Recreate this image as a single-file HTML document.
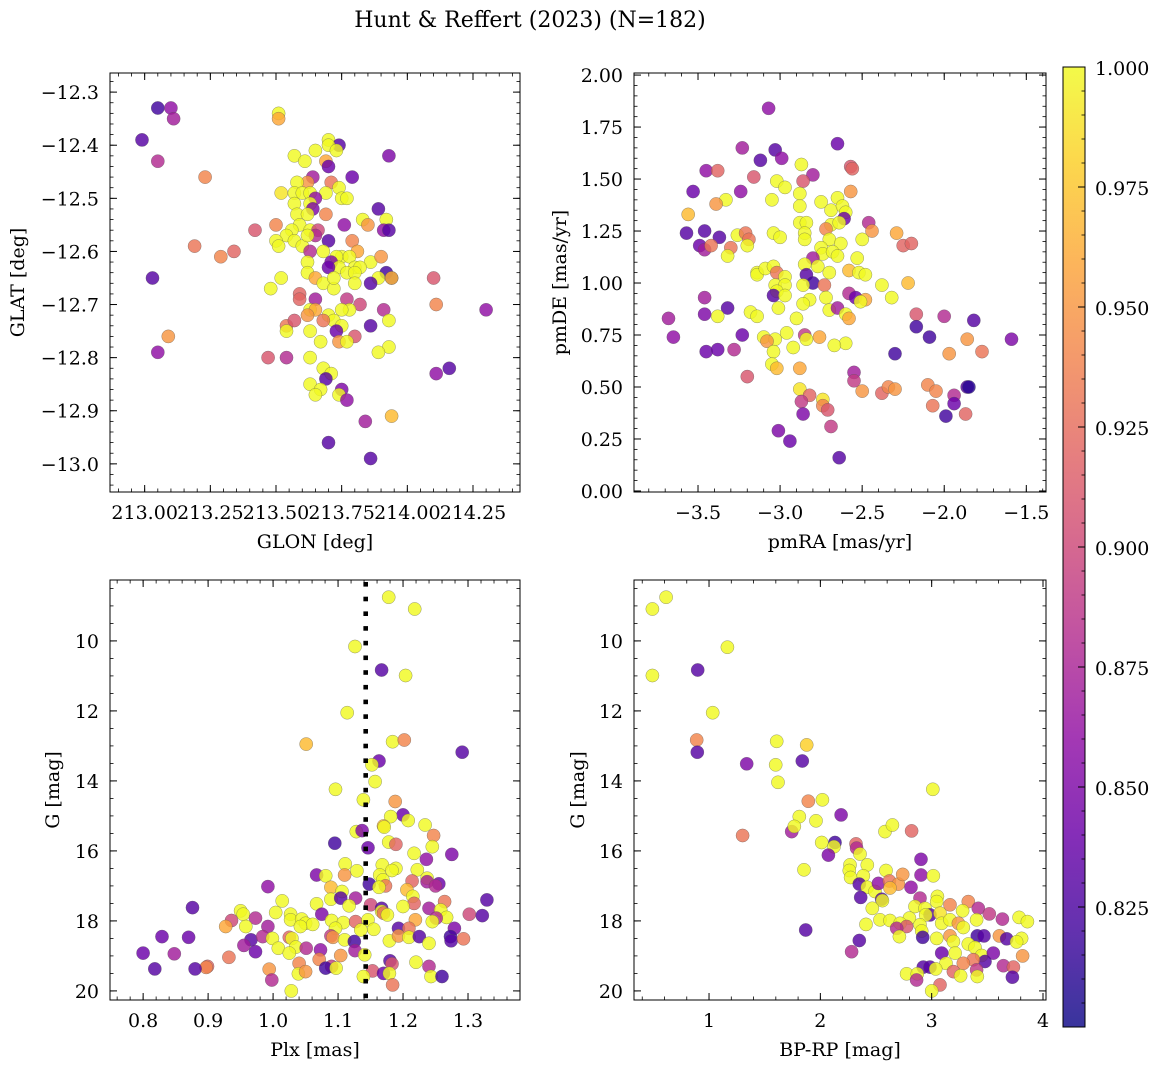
<!DOCTYPE html>
<html><head><meta charset="utf-8">
<style>
html,body{margin:0;padding:0;background:#fff;}
svg{display:block;font-family:"DejaVu Serif","Liberation Serif",serif;}
</style></head>
<body>
<svg id="fig" width="1160" height="1067" viewBox="0 0 1160 1067" xmlns="http://www.w3.org/2000/svg">
<defs>
<linearGradient id="plasmaGrad" x1="0" y1="1" x2="0" y2="0">
<stop offset="0" stop-color="#0d0887"/><stop offset="0.1" stop-color="#41049d"/><stop offset="0.2" stop-color="#6a00a8"/><stop offset="0.3" stop-color="#8f0da4"/><stop offset="0.4" stop-color="#b12a90"/><stop offset="0.5" stop-color="#cc4778"/><stop offset="0.6" stop-color="#e16462"/><stop offset="0.7" stop-color="#f2844b"/><stop offset="0.8" stop-color="#fca636"/><stop offset="0.9" stop-color="#fcce25"/><stop offset="1" stop-color="#f0f921"/>
</linearGradient>
</defs>
<text x="530" y="27" font-size="22" text-anchor="middle">Hunt &amp; Reffert (2023) (N=182)</text>
</svg>
<script>
// ---------- Panel 1 data: GLON / GLAT ----------
const p1Glon=[213.05,213.10,213.11,212.99,213.05,213.23,213.51,213.51,213.70,213.74,213.70,213.73,213.65,213.57,213.61,213.69,213.70,213.93,213.79,213.64,213.62,213.58,213.71,213.74,213.69,213.52,213.57,213.60,213.63,213.75,213.77,213.65,213.57,213.63,213.64,213.58,213.62,213.69,213.89,213.83,213.85,213.92,213.76,213.91,213.93,213.42,213.50,213.59,213.56,213.63,213.66,213.65,213.70,213.79,213.54,213.50,213.51,213.57,213.60,213.62,213.68,213.63,213.81,213.75,213.78,213.73,213.71,213.19,213.29,213.34,213.03,213.62,213.86,213.90,213.74,213.80,213.82,213.70,213.62,213.65,213.68,213.72,213.72,213.77,213.80,213.80,213.92,213.89,213.94,213.94,213.86,213.52,213.48,214.10,214.11,214.30,213.59,213.59,213.65,213.77,213.82,213.63,213.65,213.78,213.75,213.91,213.70,213.72,213.68,213.93,213.62,213.75,213.73,213.86,213.80,213.54,213.57,213.54,213.63,213.67,213.74,213.77,213.93,213.89,213.47,213.54,213.63,213.09,213.05,213.68,213.71,213.69,213.63,213.67,213.65,213.75,213.74,213.77,214.11,214.16,213.94,213.84,213.70,213.86];
const p1Glat=[-12.33,-12.33,-12.35,-12.39,-12.43,-12.46,-12.34,-12.35,-12.39,-12.40,-12.40,-12.41,-12.41,-12.42,-12.43,-12.43,-12.44,-12.42,-12.46,-12.46,-12.47,-12.47,-12.47,-12.48,-12.49,-12.49,-12.49,-12.49,-12.49,-12.50,-12.50,-12.50,-12.51,-12.51,-12.52,-12.53,-12.53,-12.53,-12.52,-12.54,-12.55,-12.54,-12.55,-12.56,-12.56,-12.56,-12.55,-12.55,-12.56,-12.56,-12.56,-12.57,-12.58,-12.58,-12.57,-12.58,-12.59,-12.58,-12.59,-12.57,-12.60,-12.60,-12.60,-12.61,-12.61,-12.61,-12.62,-12.59,-12.61,-12.60,-12.65,-12.62,-12.62,-12.61,-12.63,-12.63,-12.63,-12.63,-12.64,-12.65,-12.66,-12.67,-12.65,-12.64,-12.64,-12.66,-12.64,-12.65,-12.65,-12.65,-12.66,-12.65,-12.67,-12.65,-12.70,-12.71,-12.68,-12.69,-12.69,-12.69,-12.70,-12.71,-12.71,-12.71,-12.71,-12.71,-12.72,-12.73,-12.73,-12.73,-12.72,-12.74,-12.75,-12.74,-12.76,-12.74,-12.73,-12.75,-12.75,-12.77,-12.77,-12.77,-12.78,-12.79,-12.80,-12.80,-12.80,-12.76,-12.79,-12.82,-12.83,-12.84,-12.85,-12.86,-12.87,-12.86,-12.87,-12.88,-12.83,-12.82,-12.91,-12.92,-12.96,-12.99];
const p1Prob=[.82,.86,.87,.83,.88,.94,1,.96,1,.83,1,1,1,1,1,.96,.84,.85,.84,.87,.95,1,.93,1,1,.99,1,1,1,1,1,.86,1,1,.85,1,1,.94,.83,1,.95,1,.86,.86,.83,.91,.94,1,1,1,.90,.88,.83,.94,1,1,1,1,1,1,1,.88,.96,1,1,1,.85,.93,.94,.92,.83,1,1,.95,1,1,1,.84,1,.96,1,1,1,1,1,1,.82,1,.83,.97,.83,1,1,.91,.94,.86,.92,.92,.87,.89,.90,1,.96,1,1,.88,1,1,.93,1,.95,1,.84,.83,.91,.93,.91,1,1,1,.95,1,1,1,.91,.88,1,.95,.86,1,1,.83,1,1,1,.85,1,.86,.86,.83,.97,.87,.83,.83];

// ---------- Panel 2 data: pmRA / pmDE ----------
const p2PmRA=[-3.07,-3.23,-3.03,-2.99,-3.12,-2.65,-2.87,-3.45,-3.38,-2.80,-2.86,-3.16,-2.57,-2.56,-3.02,-2.97,-3.53,-3.24,-2.57,-2.88,-3.05,-2.75,-2.65,-3.33,-3.39,-3.56,-2.88,-2.69,-2.62,-2.60,-2.61,-2.88,-2.84,-2.46,-2.69,-2.64,-2.72,-2.44,-2.29,-3.57,-3.46,-3.37,-3.26,-3.21,-3.19,-3.04,-3.00,-2.85,-2.85,-2.70,-2.50,-3.49,-3.46,-3.42,-3.30,-3.20,-3.32,-2.25,-2.20,-2.75,-2.74,-2.63,-2.68,-2.65,-2.80,-2.53,-2.85,-2.77,-2.58,-2.52,-2.48,-3.14,-3.14,-3.09,-3.04,-3.02,-2.97,-2.84,-2.70,-2.80,-2.73,-2.38,-2.22,-3.03,-2.97,-3.02,-2.86,-3.04,-2.97,-2.58,-2.54,-2.72,-2.48,-2.51,-2.32,-3.46,-2.82,-2.86,-3.32,-3.01,-2.70,-2.65,-2.60,-2.58,-3.46,-3.38,-3.18,-3.14,-2.17,-2.00,-1.82,-3.68,-2.90,-2.17,-3.65,-3.23,-2.85,-2.96,-2.76,-3.10,-3.03,-2.84,-3.08,-2.60,-2.67,-2.92,-2.09,-1.86,-1.59,-3.45,-3.38,-3.28,-3.04,-2.30,-1.97,-1.77,-3.05,-3.02,-2.88,-3.20,-2.55,-2.55,-2.88,-2.50,-2.38,-2.34,-2.30,-2.10,-2.05,-1.86,-1.85,-2.82,-2.74,-2.74,-2.87,-2.71,-2.86,-1.94,-1.94,-2.07,-1.99,-1.87,-2.69,-3.01,-2.94,-2.64];
const p2PmDE=[1.84,1.65,1.64,1.60,1.59,1.67,1.57,1.54,1.54,1.52,1.49,1.51,1.56,1.55,1.49,1.46,1.44,1.44,1.44,1.43,1.40,1.39,1.41,1.40,1.38,1.33,1.37,1.35,1.37,1.34,1.31,1.29,1.29,1.29,1.28,1.29,1.26,1.25,1.24,1.24,1.25,1.22,1.23,1.24,1.21,1.24,1.22,1.24,1.21,1.21,1.21,1.18,1.16,1.18,1.17,1.18,1.13,1.18,1.19,1.17,1.14,1.19,1.15,1.13,1.12,1.12,1.09,1.08,1.06,1.05,1.04,1.05,1.04,1.07,1.08,1.05,1.03,1.04,1.05,1.00,0.99,0.99,1.00,0.99,0.99,0.96,0.99,0.94,0.94,0.95,0.93,0.93,0.92,0.91,0.93,0.93,0.92,0.90,0.88,0.88,0.87,0.88,0.85,0.83,0.85,0.84,0.86,0.84,0.85,0.84,0.82,0.83,0.83,0.79,0.74,0.75,0.75,0.76,0.74,0.74,0.73,0.73,0.72,0.71,0.70,0.69,0.74,0.73,0.73,0.67,0.68,0.68,0.67,0.66,0.66,0.67,0.61,0.59,0.59,0.55,0.57,0.53,0.49,0.48,0.47,0.50,0.49,0.51,0.48,0.50,0.50,0.46,0.44,0.41,0.43,0.39,0.37,0.46,0.42,0.41,0.36,0.37,0.31,0.29,0.24,0.16];
const p2Prob=[.86,.87,.83,.86,.83,.84,1,.86,.92,.87,.91,.91,.91,.92,1,1,.84,.86,.95,1,1,1,1,1,.95,.97,1,1,1,1,.84,1,1,.88,1,1,.94,.95,.96,.83,.83,.83,1,.93,.93,1,1,1,1,1,1,.84,.87,.93,.93,1,1,.92,.92,1,1,1,1,1,.87,1,1,1,.97,1,1,1,1,1,1,.93,1,.83,1,.82,.93,1,.97,1,1,1,1,.83,1,.88,.84,1,.96,1,1,.87,1,1,.83,1,1,.87,1,.96,.85,1,1,1,.91,.88,.83,.87,1,.82,.86,.84,.89,1,.96,1,1,1,.95,1,1,1,.82,.95,.85,.84,.84,.88,1,.82,.95,.93,1,.97,.96,.91,.87,.89,.99,.95,.92,.94,.95,.94,.94,.83,.81,.92,.99,.94,.89,.91,.85,.88,.84,.93,.82,.92,.89,.85,.84,.83];

// ---------- Panel 3 data: Plx / G ----------
const p3Plx=[1.178,1.218,1.126,1.167,1.204,1.114,1.051,1.184,1.202,1.291,1.163,1.152,1.157,1.096,1.139,1.188,1.200,1.181,1.208,1.170,1.171,1.234,1.247,1.128,1.137,1.095,1.178,1.189,1.245,1.146,1.217,1.275,1.236,1.111,1.168,1.189,1.183,1.129,1.067,1.081,1.110,1.164,1.222,1.169,1.237,1.237,1.214,1.255,1.148,1.250,0.992,1.089,1.173,1.163,1.206,1.106,1.089,1.104,1.127,1.215,1.217,1.014,0.876,1.067,1.117,1.150,1.240,1.264,1.258,1.329,1.167,1.167,1.200,0.950,0.954,1.004,1.027,1.075,1.170,1.176,1.302,1.322,1.267,1.251,0.973,0.936,1.027,1.044,1.050,1.061,1.090,1.108,1.127,1.146,1.219,1.245,0.927,0.958,0.992,1.042,1.096,1.135,1.155,1.193,1.209,1.279,0.829,0.870,0.966,0.984,0.999,1.025,1.029,1.089,1.092,1.110,1.125,1.179,1.193,1.209,1.225,1.273,1.274,1.293,0.955,1.008,1.035,1.051,1.073,1.126,1.240,0.973,0.800,0.848,1.025,1.141,1.104,0.932,1.071,1.180,1.183,1.220,1.040,1.090,1.081,1.097,1.240,0.899,0.897,0.818,0.880,0.994,1.153,1.170,1.179,1.039,1.050,0.998,1.139,1.243,1.260,1.184,1.028];
const p3G=[8.75,9.09,10.16,10.83,10.99,12.05,12.95,12.88,12.83,13.18,13.43,13.54,14.02,14.24,14.54,14.59,14.97,15.02,15.13,15.29,15.32,15.26,15.56,15.45,15.42,15.78,15.75,15.81,15.88,15.91,16.07,16.10,16.24,16.37,16.40,16.50,16.56,16.57,16.69,16.71,16.69,16.69,16.54,16.83,16.78,16.88,16.86,16.94,16.95,17.00,17.02,17.04,17.00,17.04,17.11,17.16,17.38,17.35,17.35,17.30,17.50,17.43,17.62,17.51,17.57,17.54,17.64,17.45,17.69,17.40,17.64,17.73,17.59,17.71,17.81,17.76,17.81,17.81,17.78,17.83,17.81,17.85,17.90,17.92,17.92,17.99,17.97,17.95,18.07,18.10,17.99,18.05,18.02,17.97,17.97,18.02,18.16,18.16,18.16,18.16,18.21,18.26,18.24,18.21,18.21,18.21,18.45,18.47,18.54,18.45,18.50,18.47,18.50,18.43,18.47,18.54,18.59,18.57,18.43,18.47,18.45,18.45,18.57,18.51,18.70,18.78,18.75,18.78,18.83,18.85,18.64,18.88,18.92,18.94,18.92,18.97,18.99,19.04,19.10,19.14,19.23,19.18,19.21,19.30,19.35,19.35,19.30,19.30,19.33,19.37,19.37,19.38,19.43,19.50,19.50,19.51,19.45,19.69,19.59,19.59,19.59,19.83,20.00];
const p3Prob=[1,1,1,.83,1,1,.97,1,.94,.83,.84,1,1,1,1,.95,.84,1,1,.97,1,1,.94,1,.85,.82,1,.92,1,.84,1,.85,.86,1,1,1,1,1,.85,1,.95,1,1,1,1,.87,.92,.84,.82,.88,.86,.97,.93,1,.97,1,1,.83,.87,1,.92,1,.83,1,1,.90,.87,.93,1,.83,.83,1,1,1,1,1,1,.85,.93,1,.90,.83,1,.88,.88,.90,1,1,1,1,1,1,.92,1,.96,1,.96,1,.87,1,1,1,1,.83,.93,.85,.84,.84,.83,.88,1,.92,1,.89,.95,1,.82,1,.95,1,.83,.82,.83,.93,.87,1,1,.88,.86,.87,1,.84,.84,.87,1,1,.95,.93,.94,.83,.91,1,.94,.89,.82,1,.88,.92,.94,.83,.83,.95,.91,.84,1,1,.95,.88,1,1,.82,.93,1];

// ---------- Panel 4 data: BP-RP / G ----------
const p4Color=[0.614,0.491,1.165,0.898,0.491,1.033,0.889,0.895,1.338,1.608,1.877,1.838,1.599,1.620,3.010,1.892,2.018,2.186,1.811,1.743,1.766,1.961,1.302,2.581,2.647,2.820,2.012,2.132,2.123,2.072,2.320,2.326,2.356,1.853,2.266,2.260,2.272,2.422,2.386,2.590,2.904,2.904,3.015,2.350,2.422,2.491,2.521,2.620,2.701,2.740,2.814,2.626,2.362,2.551,2.557,2.467,2.895,3.051,3.045,3.165,3.329,3.419,3.518,3.635,2.850,2.940,2.985,2.946,3.075,3.278,3.404,2.536,2.626,2.800,2.410,2.716,2.775,2.686,2.895,3.090,3.165,3.240,3.284,2.910,3.785,3.860,1.868,2.710,2.919,3.045,3.165,3.410,3.470,3.608,3.674,3.808,3.763,2.350,3.195,3.329,3.389,3.090,3.210,3.449,3.554,3.479,3.374,3.817,2.281,3.284,3.644,3.734,3.725,3.129,2.925,2.985,3.036,3.404,2.775,2.871,2.865,3.195,3.260,3.410,3.075,3.000];
const p4G=[8.75,9.09,10.18,10.83,10.99,12.05,12.83,13.18,13.51,12.87,12.97,13.43,13.54,14.04,14.24,14.58,14.54,14.97,15.02,15.45,15.30,15.14,15.56,15.45,15.26,15.43,15.76,15.76,15.88,16.12,15.80,15.92,16.09,16.54,16.40,16.56,16.76,16.40,16.71,16.56,16.24,16.69,16.71,16.95,17.04,17.16,16.93,16.86,16.95,16.67,17.04,17.06,17.33,17.38,17.42,17.64,17.35,17.30,17.45,17.54,17.45,17.64,17.80,17.95,17.59,17.64,17.83,17.83,17.78,17.71,17.97,17.97,17.99,17.92,18.10,18.07,18.16,18.21,18.11,18.07,17.97,18.07,18.19,18.29,17.90,18.02,18.26,18.45,18.47,18.50,18.43,18.43,18.43,18.43,18.51,18.50,18.60,18.56,18.59,18.66,18.76,18.92,18.92,18.99,18.92,19.16,19.11,19.00,18.88,19.21,19.28,19.32,19.61,19.21,19.32,19.32,19.37,19.40,19.51,19.51,19.69,19.45,19.57,19.59,19.83,20.00];
const p4Prob=[1,1,1,.83,1,1,.94,.83,.85,1,.98,.83,1,1,1,.94,1,.85,1,.87,1,1,.93,1,1,.92,1,.82,1,.85,.92,.88,1,1,1,1,1,1,1,1,.85,.86,1,.83,1,1,.86,.93,.95,.95,.86,.97,.83,.83,1,1,.88,1,1,.94,.94,.88,.89,.88,1,1,.83,1,.99,1,1,1,1,1,1,1,.91,.88,1,1,1,.95,1,1,1,1,.83,1,.82,1,.95,.82,.83,.95,.83,1,1,.83,1,1,1,.84,1,1,.85,.83,.93,.95,.88,.94,.88,.92,.83,1,.83,.83,1,.89,1,1,.88,.92,1,1,.92,1];

// ---------- tick / colorbar arrays ----------
const p1XTicks=[213.00,213.25,213.50,213.75,214.00,214.25];
const p1YTicks=[-12.3,-12.4,-12.5,-12.6,-12.7,-12.8,-12.9,-13.0];
const p2XTicks=[-3.5,-3.0,-2.5,-2.0,-1.5];
const p2YTicks=[0.00,0.25,0.50,0.75,1.00,1.25,1.50,1.75,2.00];
const p3XTicks=[0.8,0.9,1.0,1.1,1.2,1.3];
const gTicks=[10,12,14,16,18,20];
const p4XTicks=[1,2,3,4];
const cbTicks=[0.825,0.850,0.875,0.900,0.925,0.950,0.975,1.000];
const plxRef=1.1426;
const vMin=0.8, vMax=1.0;

const NS='http://www.w3.org/2000/svg';
const svg=document.getElementById('fig');
function mk(tag,attrs,parent){const e=document.createElementNS(NS,tag);for(const k in attrs)e.setAttribute(k,attrs[k]);(parent||svg).appendChild(e);return e;}
const plasma=['#0d0887','#41049d','#6a00a8','#8f0da4','#b12a90','#cc4778','#e16462','#f2844b','#fca636','#fcce25','#f0f921'];
function hex(h){return [parseInt(h.substr(1,2),16),parseInt(h.substr(3,2),16),parseInt(h.substr(5,2),16)];}
function cmap(v){let t=(v-vMin)/(vMax-vMin);t=Math.max(0,Math.min(1,t));const s=t*10,i=Math.min(9,Math.floor(s)),f=s-i;const a=hex(plasma[i]),b=hex(plasma[i+1]);return 'rgb('+a.map((c,k)=>Math.round(c+(b[k]-c)*f)).join(',')+')';}
function minus(s){return s.replace('-','\u2212');}

function panel(cfg,xs,ys,ps){
  const g=mk('g',{});
  
  
  const sx=v=>cfg.L+(v-cfg.x0)/(cfg.x1-cfg.x0)*(cfg.R-cfg.L);
  const sy=v=>cfg.B-(v-cfg.y0)/(cfg.y1-cfg.y0)*(cfg.B-cfg.T);
  const clip='clip-'+cfg.name;
  const cp=mk('clipPath',{id:clip},g);mk('rect',{x:cfg.L,y:cfg.T,width:cfg.R-cfg.L,height:cfg.B-cfg.T},cp);
  const pts=mk('g',{'clip-path':'url(#'+clip+')'},g);
  
  
  for(let i=0;i<xs.length;i++){
    const c=mk('circle',{cx:sx(xs[i]).toFixed(1),cy:sy(ys[i]).toFixed(1),r:6.6,fill:cmap(ps[i]),'fill-opacity':0.82,stroke:'#555','stroke-width':0.5,'stroke-opacity':0.6},pts);
    
    
  }
  if(cfg.vline!==undefined){
    const lg=mk('g',{fill:'#000'},g);
    
    
    const vx=sx(cfg.vline);
    for(let yy=cfg.T+2;yy<cfg.B;yy+=14.7){
      mk('rect',{x:(vx-2.3).toFixed(1),y:yy.toFixed(1),width:4.6,height:Math.min(4.6,cfg.B-yy).toFixed(1)},lg);
    }
  }
  const lo=Math.min(cfg.x0,cfg.x1),hi=Math.max(cfg.x0,cfg.x1);
  for(let v=Math.ceil(lo/cfg.xm-1e-6)*cfg.xm;v<=hi+1e-9;v+=cfg.xm){const x=sx(v);mk('line',{x1:x,x2:x,y1:cfg.B,y2:cfg.B-3.5,stroke:'#000','stroke-width':0.8},g);mk('line',{x1:x,x2:x,y1:cfg.T,y2:cfg.T+3.5,stroke:'#000','stroke-width':0.8},g);}
  const ylo=Math.min(cfg.y0,cfg.y1),yhi=Math.max(cfg.y0,cfg.y1);
  for(let v=Math.ceil(ylo/cfg.ym-1e-6)*cfg.ym;v<=yhi+1e-9;v+=cfg.ym){const y=sy(v);mk('line',{x1:cfg.L,x2:cfg.L+3.5,y1:y,y2:y,stroke:'#000','stroke-width':0.8},g);mk('line',{x1:cfg.R,x2:cfg.R-3.5,y1:y,y2:y,stroke:'#000','stroke-width':0.8},g);}
  cfg.xt.forEach(v=>{const x=sx(v);mk('line',{x1:x,x2:x,y1:cfg.B,y2:cfg.B-7,stroke:'#000','stroke-width':1},g);mk('line',{x1:x,x2:x,y1:cfg.T,y2:cfg.T+7,stroke:'#000','stroke-width':1},g);
    const t=mk('text',{x:x,y:cfg.B+27,'font-size':19,'text-anchor':'middle'},g);t.textContent=minus(v.toFixed(cfg.xd));
    });
  cfg.yt.forEach(v=>{const y=sy(v);mk('line',{x1:cfg.L,x2:cfg.L+7,y1:y,y2:y,stroke:'#000','stroke-width':1},g);mk('line',{x1:cfg.R,x2:cfg.R-7,y1:y,y2:y,stroke:'#000','stroke-width':1},g);
    const t=mk('text',{x:cfg.L-11,y:y+7,'font-size':19,'text-anchor':'end'},g);t.textContent=minus(v.toFixed(cfg.yd));
    });
  mk('rect',{x:cfg.L,y:cfg.T,width:cfg.R-cfg.L,height:cfg.B-cfg.T,fill:'none',stroke:'#000','stroke-width':1},g);
  const xl=mk('text',{x:(cfg.L+cfg.R)/2,y:cfg.B+56,'font-size':19,'text-anchor':'middle'},g);xl.textContent=cfg.xlab;
  
  const yx=cfg.ylx,ycy=(cfg.T+cfg.B)/2;
  const yl=mk('text',{x:yx,y:ycy,'font-size':19,'text-anchor':'middle',transform:'rotate(-90 '+yx+' '+ycy+')'},g);yl.textContent=cfg.ylab;
  
}

panel({name:'panel-sky-position',L:110,R:520,T:73,B:492,x0:212.868,x1:214.429,y0:-13.053,y1:-12.264,xt:p1XTicks,yt:p1YTicks,xm:0.05,ym:0.02,xd:2,yd:1,xlab:'GLON [deg]',ylab:'GLAT [deg]',ylx:24},p1Glon,p1Glat,p1Prob);
panel({name:'panel-proper-motion',L:634,R:1046,T:73,B:492,x0:-3.89,x1:-1.38,y0:-0.005,y1:2.01,xt:p2XTicks,yt:p2YTicks,xm:0.1,ym:0.05,xd:1,yd:2,xlab:'pmRA [mas/yr]',ylab:'pmDE [mas/yr]',ylx:566},p2PmRA,p2PmDE,p2Prob);
panel({name:'panel-parallax-mag',L:110,R:520,T:580,B:1000,x0:0.749,x1:1.38,y0:20.26,y1:8.26,xt:p3XTicks,yt:gTicks,xm:0.02,ym:0.5,xd:1,yd:0,xlab:'Plx [mas]',ylab:'G [mag]',ylx:59,vline:plxRef},p3Plx,p3G,p3Prob);
panel({name:'panel-cmd',L:634,R:1046,T:580,B:1000,x0:0.326,x1:4.027,y0:20.26,y1:8.26,xt:p4XTicks,yt:gTicks,xm:0.2,ym:0.5,xd:0,yd:0,xlab:'BP-RP [mag]',ylab:'G [mag]',ylx:584},p4Color,p4G,p4Prob);

const cb=mk('g',{});


const cbT=67,cbB=1027,cbL=1063,cbR=1085;
const cy=v=>cbB-(v-vMin)/(vMax-vMin)*(cbB-cbT);
mk('rect',{x:cbL,y:cbT,width:cbR-cbL,height:cbB-cbT,fill:'url(#plasmaGrad)','fill-opacity':0.82},cb);
for(let v=0.805;v<=1.0001;v+=0.005){const y=cy(v);mk('line',{x1:cbR,x2:cbR-3.5,y1:y,y2:y,stroke:'#000','stroke-width':0.8},cb);}
cbTicks.forEach(v=>{const y=cy(v);mk('line',{x1:cbR,x2:cbR-7,y1:y,y2:y,stroke:'#000','stroke-width':1},cb);
  const t=mk('text',{x:cbR+10,y:y+8,'font-size':19},cb);t.textContent=v.toFixed(3);
  });
mk('rect',{x:cbL,y:cbT,width:cbR-cbL,height:cbB-cbT,fill:'none',stroke:'#000','stroke-width':1},cb);
</script>
</body></html>
